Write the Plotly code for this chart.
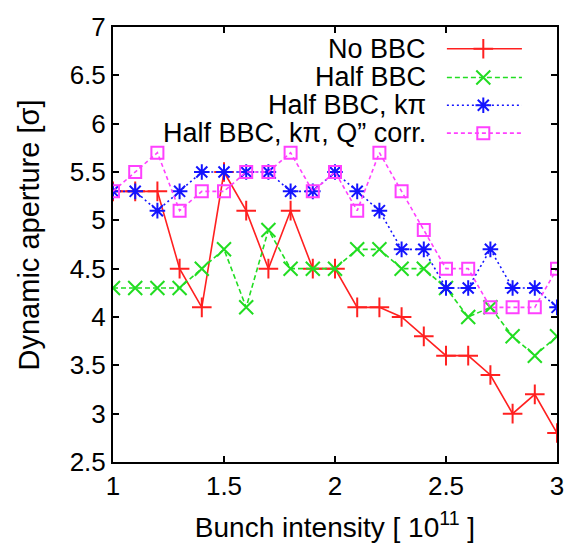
import plotly.graph_objects as go

intensity = [1.0, 1.1, 1.2, 1.3, 1.4, 1.5, 1.6, 1.7, 1.8, 1.9, 2.0,
             2.1, 2.2, 2.3, 2.4, 2.5, 2.6, 2.7, 2.8, 2.9, 3.0]
no_bbc = [5.3, 5.3, 5.3, 4.5, 4.1, 5.5, 5.1, 4.5, 5.1, 4.5, 4.5,
          4.1, 4.1, 4.0, 3.8, 3.6, 3.6, 3.4, 3.0, 3.2, 2.8]
half_bbc = [4.3, 4.3, 4.3, 4.3, 4.5, 4.7, 4.1, 4.9, 4.5, 4.5, 4.5,
            4.7, 4.7, 4.5, 4.5, 4.3, 4.0, 4.1, 3.8, 3.6, 3.8]
half_bbc_kpi = [5.3, 5.3, 5.1, 5.3, 5.5, 5.5, 5.5, 5.5, 5.3, 5.3, 5.5,
                5.3, 5.1, 4.7, 4.7, 4.3, 4.3, 4.7, 4.3, 4.3, 4.1]
half_bbc_kpi_q = [5.3, 5.5, 5.7, 5.1, 5.3, 5.3, 5.5, 5.5, 5.7, 5.3, 5.5,
                  5.1, 5.7, 5.3, 4.9, 4.5, 4.5, 4.1, 4.1, 4.1, 4.5]

names = ["No BBC", "Half BBC", "Half BBC, kπ", "Half BBC, kπ, Q” corr."]
colors = ["#ff2020", "#22dd22", "#1414ff", "#ff40ff"]
dashes = ["solid", "5px,3px", "2px,3px", "4px,3px"]
symbols = ["cross-thin-open", "x-thin-open", "asterisk-open", "square-open"]
sizes = [14, 14, 13, 12]
series = [no_bbc, half_bbc, half_bbc_kpi, half_bbc_kpi_q]

FONT = "Liberation Sans, Arial, sans-serif"
FS = 27

fig = go.Figure()
for name, vals, c, d, s, sz in zip(names, series, colors, dashes, symbols, sizes):
    fig.add_trace(go.Scatter(
        x=intensity, y=vals, mode="lines+markers", name=name,
        line=dict(color=c, width=1.6, dash=d),
        marker=dict(symbol=s, size=sz, color=c, line=dict(color=c, width=2)),
        showlegend=False))

# custom legend (text on the left, sample on the right, gnuplot style)
leg_y = [0.95, 0.884, 0.82, 0.756]
for name, c, d, s, sz, yy in zip(names, colors, dashes, symbols, sizes, leg_y):
    fig.add_trace(go.Scatter(
        x=[0.752, 0.921], y=[yy, yy], xaxis="x2", yaxis="y2", mode="lines",
        line=dict(color=c, width=1.6, dash=d), showlegend=False, hoverinfo="skip"))
    fig.add_trace(go.Scatter(
        x=[0.834], y=[yy], xaxis="x2", yaxis="y2", mode="markers",
        marker=dict(symbol=s, size=sz, color=c, line=dict(color=c, width=2)),
        showlegend=False, hoverinfo="skip"))
    fig.add_annotation(x=0.71, y=yy, xref="paper", yref="paper", text=name,
                       showarrow=False, xanchor="right", yanchor="middle",
                       font=dict(family=FONT, size=FS, color="black"))

# y-axis title placed as in the reference
fig.add_annotation(x=-0.187, y=0.523, xref="paper", yref="paper",
                   text="Dynamic aperture [σ]", textangle=-90, showarrow=False,
                   xanchor="center", yanchor="middle",
                   font=dict(family=FONT, size=29, color="black"))

axis_common = dict(showline=True, linecolor="black", linewidth=2, mirror="allticks",
                   ticks="inside", ticklen=6, tickwidth=1.5, tickcolor="black",
                   showgrid=False, zeroline=False,
                   tickfont=dict(family=FONT, size=26, color="black"))

fig.update_layout(
    width=577, height=554,
    margin=dict(l=113, r=20, t=20, b=92),
    plot_bgcolor="white", paper_bgcolor="white",
    xaxis=dict(range=[1, 3], dtick=0.5, tick0=1,
               title=dict(text="Bunch intensity [ 10<sup>11</sup> ]",
                          font=dict(family=FONT, size=28, color="black"), standoff=17),
               **axis_common),
    yaxis=dict(range=[2.5, 7], dtick=0.5, tick0=2.5, **axis_common),
    xaxis2=dict(range=[0, 1], overlaying="x", visible=False, fixedrange=True),
    yaxis2=dict(range=[0, 1], overlaying="y", visible=False, fixedrange=True),
)

fig.write_html("out.html")
